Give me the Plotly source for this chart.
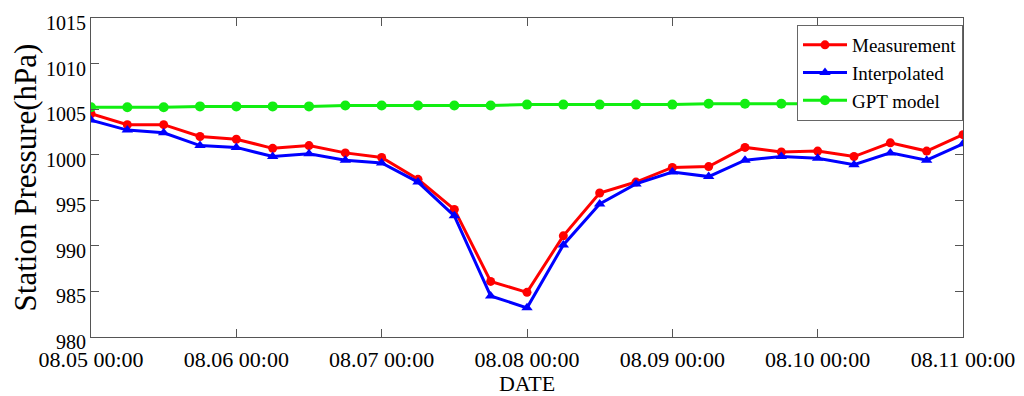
import plotly.graph_objects as go
import pandas as pd

times = pd.date_range("2015-08-05 00:00", "2015-08-11 00:00", freq="6h")

measurement = [1004.5, 1003.3, 1003.3, 1002.0, 1001.7, 1000.7, 1001.0, 1000.2, 999.7,
               997.3, 994.0, 986.1, 984.9, 991.1, 995.8, 997.0, 998.6, 998.7,
               1000.8, 1000.3, 1000.4, 999.8, 1001.3, 1000.4, 1002.2]
interpolated = [1003.8, 1002.7, 1002.4, 1001.0, 1000.8, 999.8, 1000.1, 999.4, 999.1,
                997.0, 993.3, 984.5, 983.2, 990.1, 994.6, 996.8, 998.1, 997.6,
                999.4, 999.8, 999.6, 998.9, 1000.2, 999.4, 1001.2]
gpt_model = [1005.2, 1005.2, 1005.2, 1005.3, 1005.3, 1005.3, 1005.3, 1005.4, 1005.4,
             1005.4, 1005.4, 1005.4, 1005.5, 1005.5, 1005.5, 1005.5, 1005.5, 1005.6,
             1005.6, 1005.6, 1005.6, 1005.6, 1005.7, 1005.7, 1005.7]

y_ticks = [980, 985, 990, 995, 1000, 1005, 1010, 1015]

FONT = "Liberation Serif"
AX = "#555555"

fig = go.Figure()
fig.add_trace(go.Scatter(x=times, y=measurement, name="Measurement", mode="lines+markers",
                         line=dict(color="#FF0000", width=3),
                         marker=dict(symbol="circle", size=9, color="#FF0000")))
fig.add_trace(go.Scatter(x=times, y=interpolated, name="Interpolated", mode="lines+markers",
                         line=dict(color="#0000FF", width=3),
                         marker=dict(symbol="triangle-up", size=10, color="#0000FF")))
fig.add_trace(go.Scatter(x=times, y=gpt_model, name="GPT model", mode="lines+markers",
                         line=dict(color="#11EE11", width=3),
                         marker=dict(symbol="circle", size=10, color="#11EE11")))

fig.update_layout(
    width=1024, height=396,
    margin=dict(l=91, r=61, t=18, b=59, autoexpand=False),
    paper_bgcolor="white", plot_bgcolor="white",
    font=dict(family=FONT, size=22, color="black"),
    showlegend=True,
    legend=dict(x=1, y=0.978, xanchor="right", yanchor="top",
                bordercolor="#666666", borderwidth=1, bgcolor="white",
                font=dict(family=FONT, size=19), tracegroupgap=0,
                itemwidth=44),
    xaxis=dict(type="date", range=[times[0], times[-1]],
               tickformat="%m.%d %H:%M", dtick=86400000,
               tick0=times[0], automargin=False,
               showline=True, linecolor=AX, linewidth=1, mirror="ticks",
               ticks="inside", ticklen=8, tickcolor=AX,
               showgrid=False, zeroline=False,
               ticklabelstandoff=3,
               title=dict(text="DATE", font=dict(family=FONT, size=22), standoff=0),
               tickfont=dict(family=FONT, size=22)),
    yaxis=dict(range=[980, 1015], tickvals=y_ticks, automargin=False,
               showline=True, linecolor=AX, linewidth=1, mirror="ticks",
               ticks="inside", ticklen=8, tickcolor=AX,
               showgrid=False, zeroline=False,
               ticklabelshift=5,
               title=dict(text="Station Pressure(hPa)", font=dict(family=FONT, size=31), standoff=0),
               tickfont=dict(family=FONT, size=20)),
)

fig.write_html("out.html", config={"displayModeBar": False},
               post_script="document.body.style.margin='0';")
